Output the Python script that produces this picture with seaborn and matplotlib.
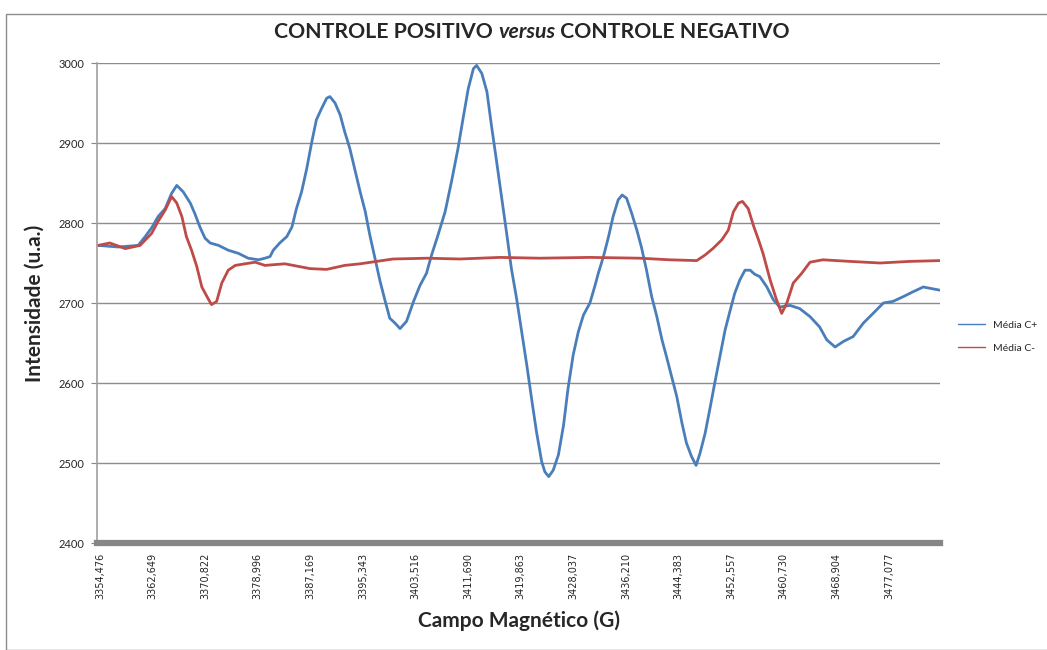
import numpy as np
import pandas as pd
import matplotlib
matplotlib.use('Agg')
import matplotlib.pyplot as plt
from matplotlib.patches import Rectangle
from matplotlib.offsetbox import TextArea, HPacker, AnchoredOffsetbox
import seaborn as sns

#------------------------------------------------------------------------------------------------------------------------------------------------------
# values (field in G, intensity in u.a.)

campo_pos = [3354.2, 3357.3, 3360.4, 3361.5, 3362.5, 3363.5, 3364.6, 3365.6, 3366.4, 3367.4,
             3368.5, 3369.2, 3370.0, 3370.8, 3371.6, 3372.9, 3374.4, 3376.0, 3377.5, 3379.1,
             3380.1, 3380.9, 3381.4, 3382.4, 3383.5, 3384.3, 3385.0, 3385.8, 3386.6, 3387.4,
             3388.1, 3388.9, 3389.7, 3390.2, 3391.0, 3391.8, 3392.5, 3393.3, 3394.1, 3394.9,
             3395.7, 3396.4, 3397.2, 3398.0, 3398.8, 3399.5, 3400.3, 3401.1, 3402.1, 3403.2,
             3404.2, 3405.2, 3406.0, 3407.0, 3408.1, 3409.1, 3410.1, 3410.9, 3411.7, 3412.5,
             3413.0, 3413.8, 3414.6, 3415.3, 3416.1, 3416.9, 3417.7, 3418.4, 3419.2, 3420.0,
             3420.8, 3421.6, 3422.3, 3423.1, 3423.6, 3424.2, 3424.9, 3425.7, 3426.5, 3427.2,
             3428.0, 3428.8, 3429.6, 3430.6, 3431.4, 3431.9, 3432.7, 3433.5, 3434.2, 3435.0,
             3435.6, 3436.3, 3437.1, 3437.9, 3438.6, 3439.4, 3440.2, 3441.0, 3441.8, 3442.5,
             3443.3, 3444.1, 3444.9, 3445.6, 3446.4, 3447.1, 3447.7, 3448.5, 3449.3, 3450.0,
             3450.8, 3451.6, 3452.4, 3453.1, 3453.9, 3454.7, 3455.5, 3456.2, 3457.0, 3458.1,
             3459.1, 3460.1, 3461.7, 3463.2, 3464.8, 3466.3, 3467.4, 3468.7, 3470.0, 3471.5,
             3473.1, 3474.6, 3476.2, 3477.7, 3479.3, 3480.8, 3482.4, 3483.7, 3485.0]
media_pos = [2772, 2770, 2772, 2783, 2794, 2808, 2818, 2837, 2847, 2839,
             2825, 2812, 2795, 2781, 2775, 2772, 2766, 2762, 2756, 2754,
             2756, 2758, 2766, 2775, 2783, 2795, 2818, 2839, 2868, 2902,
             2929, 2943, 2956, 2958, 2950, 2935, 2914, 2893, 2866, 2839,
             2814, 2785, 2756, 2727, 2702, 2681, 2675, 2668, 2677, 2702,
             2722, 2737, 2760, 2785, 2814, 2852, 2893, 2931, 2968, 2993,
             2997, 2987, 2964, 2922, 2877, 2831, 2785, 2743, 2706, 2664,
             2622, 2577, 2539, 2502, 2489, 2483, 2491, 2510, 2547, 2593,
             2635, 2664, 2685, 2700, 2722, 2737, 2758, 2783, 2808, 2829,
             2835, 2831, 2812, 2791, 2770, 2741, 2708, 2683, 2654, 2633,
             2608, 2583, 2550, 2525, 2508, 2497, 2512, 2537, 2570, 2600,
             2633, 2666, 2691, 2712, 2729, 2741, 2741, 2736, 2733, 2720,
             2704, 2695, 2697, 2693, 2683, 2670, 2654, 2645, 2652, 2658,
             2675, 2687, 2700, 2702, 2708, 2714, 2720, 2718, 2716]

campo_neg = [3354.2, 3356.0, 3358.4, 3360.7, 3362.5, 3363.5, 3364.6, 3365.6, 3366.4, 3367.2,
             3367.9, 3368.7, 3369.5, 3370.3, 3371.1, 3371.8, 3372.6, 3373.4, 3374.4, 3375.5,
             3377.0, 3378.6, 3380.1, 3383.2, 3387.1, 3389.7, 3392.5, 3394.9, 3400.0, 3405.3,
             3410.4, 3416.6, 3422.8, 3430.6, 3438.4, 3443.0, 3447.2, 3448.5, 3449.7, 3451.1,
             3452.1, 3452.9, 3453.7, 3454.3, 3455.2, 3456.0, 3456.8, 3457.5, 3458.6, 3459.6,
             3460.4, 3461.2, 3462.2, 3463.5, 3464.8, 3466.8, 3471.0, 3475.7, 3480.3, 3485.0]
media_neg = [2772, 2775, 2768, 2772, 2787, 2802, 2816, 2833, 2825, 2808,
             2783, 2766, 2746, 2720, 2708, 2698, 2702, 2725, 2741, 2747,
             2749, 2751, 2747, 2749, 2743, 2742, 2747, 2749, 2755, 2756,
             2755, 2757, 2756, 2757, 2756, 2754, 2753, 2760, 2768, 2779,
             2791, 2814, 2825, 2827, 2818, 2797, 2779, 2762, 2729, 2704,
             2687, 2700, 2725, 2737, 2751, 2754, 2752, 2750, 2752, 2753]

series = ['Média C+', 'Média C-']
colors = ['#4A7EBB', '#BE4B48']

x_labels = ['3354,476', '3362,649', '3370,822', '3378,996', '3387,169', '3395,343',
            '3403,516', '3411,690', '3419,863', '3428,037', '3436,210', '3444,383',
            '3452,557', '3460,730', '3468,904', '3477,077']
y_ticks = [2400, 2500, 2600, 2700, 2800, 2900, 3000]

#------------------------------------------------------------------------------------------------------------------------------------------------------

df = pd.concat([
    pd.DataFrame({'campo': campo_pos, 'intensidade': media_pos, 'serie': series[0]}),
    pd.DataFrame({'campo': campo_neg, 'intensidade': media_neg, 'serie': series[1]}),
])

sns.set_style('white')
plt.rcParams['font.family'] = ['Lato', 'DejaVu Sans']

fig = plt.figure(figsize=(10.47, 6.5), dpi=100)
ax = fig.add_axes([97 / 1047, 1 - 543 / 650, 843 / 1047, 480 / 650])

sns.lineplot(data=df, x='campo', y='intensidade', hue='serie', palette=colors,
             estimator=None, sort=False, linewidth=2.0, ax=ax)

ax.set_xlim(3354.01, 3485.0)
ax.set_ylim(2400, 3000)
ax.set_yticks(y_ticks)
ax.set_yticklabels([str(v) for v in y_ticks], fontsize=8)
ax.set_xticks([float(s.replace(',', '.')) for s in x_labels])
ax.set_xticklabels(x_labels, rotation=90, fontsize=7, family='DejaVu Sans')
ax.tick_params(axis='x', length=0, pad=7)
ax.tick_params(axis='y', length=4, color='#868686', direction='out', left=True, pad=5)

ax.grid(axis='y', color='#8C8C8C', linewidth=1.0)
ax.set_axisbelow(True)
for s in ['top', 'right']:
    ax.spines[s].set_visible(False)
ax.spines['left'].set_color('#A0A0A0')
ax.spines['left'].set_linewidth(1.2)
ax.spines['bottom'].set_color('#868686')
ax.spines['bottom'].set_linewidth(4.5)

# title with "versus" in bold italic
tkw = dict(fontsize=15.3, fontweight='bold', family='Lato')
parts = [TextArea('CONTROLE POSITIVO ', textprops=tkw),
         TextArea('versus', textprops=dict(tkw, style='italic')),
         TextArea(' CONTROLE NEGATIVO', textprops=tkw)]
title_box = AnchoredOffsetbox(loc='center', child=HPacker(children=parts, pad=0, sep=0),
                              bbox_to_anchor=(532 / 1047, 1 - 32 / 650),
                              bbox_transform=fig.transFigure, frameon=False, pad=0)
fig.add_artist(title_box)

ax.set_ylabel('Intensidade (u.a.)', fontsize=15, fontweight='bold', labelpad=10)
ax.set_xlabel('Campo Magnético (G)', fontsize=15, fontweight='bold', labelpad=8)

leg = ax.legend(loc='center left', bbox_to_anchor=(1.01, 0.43), frameon=False,
                fontsize=7.5, handlelength=2.6, labelspacing=1.3)
for line in leg.get_lines():
    line.set_linewidth(1.0)

# chart border
fig.patches.append(Rectangle((6 / 1047, 0), 1, 1 - 14 / 650, transform=fig.transFigure,
                             fill=False, edgecolor='#8C8C8C', linewidth=1.0))

fig.savefig('out.png', dpi=100)
